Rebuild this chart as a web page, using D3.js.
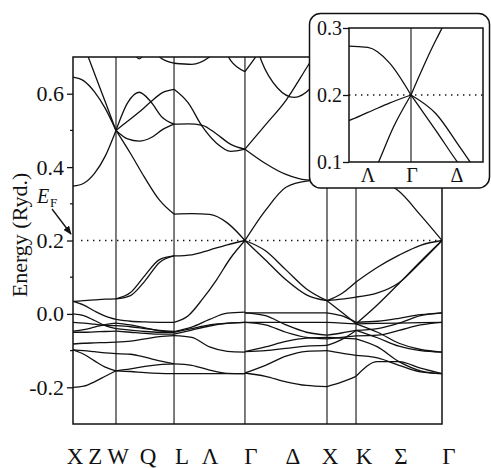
<!DOCTYPE html>
<html>
<head>
<meta charset="utf-8">
<script src="https://cdn.jsdelivr.net/npm/d3@7"></script>
<style>
  body { margin: 0; background: #fff; }
  svg text { font-family: "Liberation Serif", "Times New Roman", serif; fill: #111; }
</style>
</head>
<body>
<svg id="chart" width="491" height="468"></svg>
<script>
// high-symmetry points along the k path
const kNames = ["X", "W", "L", "Γ", "X", "K", "Γ"];
const kPos = [0, 0.523, 1.229, 2.092, 3.090, 3.443, 4.489];

// labels under the axis (points and lines between them)
const pathLabels = ["X", "Z", "W", "Q", "L", "Λ", "Γ", "Δ", "X", "K", "Σ", "Γ"];
const pathLabelK = [0.024, 0.27, 0.548, 0.912, 1.326, 1.667, 2.165, 2.676, 3.126, 3.54, 3.99, 4.574];

const yTicks = [-0.2, 0, 0.2, 0.4, 0.6];
const yMinor = [-0.1, 0.1, 0.3, 0.5];
const fermi = 0.2;

// energies (Ryd.) sampled at equal steps along each segment
const bandsXW = [
  [0.81, 0.733, 0.655, 0.578, 0.50],
  [0.645, 0.635, 0.605, 0.56, 0.50],
  [0.348, 0.356, 0.383, 0.43, 0.50],
  [0.034, 0.036, 0.038, 0.040, 0.041],
  [0.034, 0.024, 0.008, -0.006, -0.015],
  [0.0, -0.005, -0.018, -0.032, -0.04],
  [-0.023, -0.025, -0.028, -0.031, -0.032],
  [-0.047, -0.043, -0.036, -0.029, -0.025],
  [-0.05, -0.05, -0.049, -0.048, -0.047],
  [-0.082, -0.08, -0.079, -0.078, -0.077],
  [-0.098, -0.1, -0.103, -0.106, -0.108],
  [-0.098, -0.11, -0.128, -0.145, -0.155],
  [-0.2, -0.197, -0.185, -0.17, -0.155]
];
const bandsWL = [
  [0.50, 0.437, 0.37, 0.31, 0.272],
  [0.50, 0.575, 0.604, 0.578, 0.535, 0.517],
  [0.50, 0.525, 0.55, 0.578, 0.603, 0.612],
  [0.50, 0.477, 0.471, 0.48, 0.502, 0.517],
  [0.78, 0.74, 0.695, 0.74, 0.78, 0.8],
  [0.80, 0.78, 0.75, 0.70, 0.683],
  [0.041, 0.05, 0.09, 0.14, 0.158],
  [0.041, 0.058, 0.105, 0.148, 0.158],
  [-0.015, -0.02, -0.022, -0.023, -0.023],
  [-0.04, -0.044, -0.048, -0.05, -0.05],
  [-0.032, -0.035, -0.04, -0.045, -0.048],
  [-0.025, -0.03, -0.038, -0.046, -0.05],
  [-0.047, -0.05, -0.053, -0.055, -0.055],
  [-0.077, -0.074, -0.068, -0.062, -0.059],
  [-0.108, -0.11, -0.118, -0.128, -0.136],
  [-0.155, -0.15, -0.143, -0.138, -0.136],
  [-0.155, -0.157, -0.16, -0.162, -0.163]
];
const bandsLG = [
  [0.272, 0.273, 0.271, 0.248, 0.2],
  [0.612, 0.575, 0.51, 0.465, 0.443, 0.449],
  [0.517, 0.518, 0.514, 0.49, 0.462, 0.449],
  [0.683, 0.68, 0.70, 0.75, 0.8],
  [0.95, 0.9, 0.84, 0.77, 0.69, 0.66],
  [0.158, 0.161, 0.174, 0.188, 0.2],
  [-0.023, -0.005, 0.04, 0.093, 0.153, 0.2],
  [-0.048, -0.036, -0.015, 0.002, 0.005],
  [-0.05, -0.04, -0.03, -0.025, -0.023],
  [-0.055, -0.044, -0.033, -0.026, -0.023],
  [-0.059, -0.064, -0.09, -0.102, -0.104],
  [-0.136, -0.14, -0.153, -0.162, -0.163],
  [-0.163, -0.163, -0.163, -0.163, -0.163]
];
const bandsGX = [
  [0.66, 0.74, 0.84, 0.92, 0.95],
  [0.85, 0.69, 0.615, 0.59, 0.615, 0.68],
  [0.449, 0.515, 0.582, 0.67, 0.76],
  [0.449, 0.41, 0.38, 0.365, 0.363],
  [0.2, 0.282, 0.345, 0.362, 0.365],
  [0.2, 0.147, 0.093, 0.052, 0.036],
  [0.2, 0.172, 0.12, 0.068, 0.036],
  [0.003, 0.003, 0.003, 0.003, 0.003],
  [0.003, -0.005, -0.03, -0.05, -0.058],
  [-0.023, -0.023, -0.023, -0.023, -0.023],
  [-0.023, -0.03, -0.05, -0.064, -0.068],
  [-0.103, -0.1, -0.094, -0.088, -0.086],
  [-0.103, -0.09, -0.075, -0.066, -0.064],
  [-0.161, -0.14, -0.115, -0.102, -0.1],
  [-0.161, -0.17, -0.185, -0.195, -0.198]
];
const bandsXK = [
  [0.363, 0.364, 0.365],
  [0.036, 0.055, 0.087],
  [0.036, 0.04, 0.046],
  [0.036, 0.005, -0.027],
  [0.003, -0.005, -0.023],
  [-0.023, -0.025, -0.027],
  [-0.058, -0.052, -0.045],
  [-0.068, -0.064, -0.06],
  [-0.064, -0.066, -0.068],
  [-0.086, -0.07, -0.045],
  [-0.1, -0.107, -0.113],
  [-0.198, -0.186, -0.17]
];
const bandsKG = [
  [0.365, 0.365, 0.334, 0.269, 0.2],
  [0.365, 0.42, 0.5, 0.58, 0.65],
  [0.087, 0.127, 0.16, 0.187, 0.2],
  [0.046, 0.057, 0.085, 0.14, 0.2],
  [-0.027, 0.025, 0.083, 0.143, 0.2],
  [-0.023, -0.02, -0.012, -0.002, 0.003],
  [-0.045, -0.04, -0.025, -0.005, 0.003],
  [-0.027, -0.026, -0.025, -0.024, -0.023],
  [-0.06, -0.058, -0.045, -0.03, -0.023],
  [-0.027, -0.05, -0.08, -0.097, -0.104],
  [-0.045, -0.065, -0.088, -0.1, -0.104],
  [-0.068, -0.09, -0.13, -0.155, -0.163],
  [-0.113, -0.12, -0.14, -0.158, -0.163],
  [-0.17, -0.13, -0.13, -0.148, -0.163]
];

// inset: zoom around Γ
const insetTicks = [0.1, 0.2, 0.3];
const insetLabels = ["Λ", "Γ", "Δ"];
const insetLabelK = [1.662, 2.102, 2.552];

function main() {
  const svg = d3.select("#chart");
  const ink = "#111";

  const x = d3.scaleLinear().domain([kPos[0], kPos[kPos.length - 1]]).range([73, 442]);
  const y = d3.scaleLinear().domain([-0.3, 0.7]).range([424, 57]);

  const segments = [
    [0, 1, bandsXW], [1, 2, bandsWL], [2, 3, bandsLG],
    [3, 4, bandsGX], [4, 5, bandsXK], [5, 6, bandsKG]
  ];

  // turn segment samples into [k, E] point lists
  let curves = [];
  segments.forEach(([a, b, bands]) => {
    const k0 = kPos[a], k1 = kPos[b];
    bands.forEach(vals => {
      const n = vals.length;
      curves.push(vals.map((e, i) => [k0 + (k1 - k0) * i / (n - 1), e]));
    });
  });

  const defs = svg.append("defs");
  defs.append("clipPath").attr("id", "mainclip")
    .append("rect").attr("x", 73).attr("y", 57).attr("width", 369).attr("height", 367);
  defs.append("clipPath").attr("id", "insetclip")
    .append("rect").attr("x", 349).attr("y", 28).attr("width", 134).attr("height", 134);
  defs.append("marker").attr("id", "arrow")
    .attr("viewBox", "0 0 10 8").attr("refX", 9).attr("refY", 4)
    .attr("markerWidth", 9).attr("markerHeight", 7).attr("markerUnits", "userSpaceOnUse")
    .attr("orient", "auto")
    .append("path").attr("d", "M0,0 L10,4 L0,8 z").attr("fill", ink);

  const line = d3.line().x(d => x(d[0])).y(d => y(d[1])).curve(d3.curveMonotoneX);

  // fermi level
  svg.append("line")
    .attr("x1", x(0) + 8).attr("x2", x.range()[1])
    .attr("y1", y(fermi)).attr("y2", y(fermi))
    .attr("stroke", ink).attr("stroke-width", 1.3)
    .attr("stroke-dasharray", "1.4,4.6");

  // vertical lines at symmetry points
  svg.append("g").selectAll("line")
    .data(kPos.slice(1, -1)).enter()
    .append("line")
      .attr("x1", d => x(d)).attr("x2", d => x(d))
      .attr("y1", y.range()[1]).attr("y2", y.range()[0])
      .attr("stroke", ink).attr("stroke-width", 1.1);

  svg.append("g").attr("clip-path", "url(#mainclip)")
    .selectAll("path")
    .data(curves).enter()
    .append("path")
      .attr("d", line)
      .attr("fill", "none").attr("stroke", ink).attr("stroke-width", 1.3);

  // frame
  svg.append("rect")
    .attr("x", 73).attr("y", 57).attr("width", 369).attr("height", 367)
    .attr("fill", "none").attr("stroke", ink).attr("stroke-width", 1.5);

  // y axis
  const yAxis = svg.append("g").attr("transform", "translate(73,0)")
    .call(d3.axisLeft(y).tickValues(yTicks).tickSize(6).tickSizeOuter(0)
      .tickFormat(d => d3.format(".1f")(d).replace("−", "-")));
  yAxis.select(".domain").remove();
  yAxis.selectAll("line").attr("stroke", ink).attr("stroke-width", 1.3);
  yAxis.selectAll("text").attr("font-size", 22).attr("x", -9)
    .attr("font-family", "Liberation Serif").attr("fill", ink);

  svg.append("g").selectAll("line")
    .data(yMinor).enter()
    .append("line")
      .attr("x1", 70).attr("x2", 73)
      .attr("y1", d => y(d)).attr("y2", d => y(d))
      .attr("stroke", ink).attr("stroke-width", 1.2);

  svg.append("text")
    .attr("transform", `translate(27,${y(0.215)}) rotate(-90)`)
    .attr("text-anchor", "middle").attr("font-size", 22)
    .text("Energy (Ryd.)");

  // k path labels
  svg.append("g").selectAll("text")
    .data(pathLabels).enter()
    .append("text")
      .attr("x", (d, i) => x(pathLabelK[i]))
      .attr("y", 464)
      .attr("text-anchor", "middle").attr("font-size", 23)
      .text(d => d);

  // E_F marker
  svg.append("text").attr("x", 37).attr("y", 203)
    .attr("font-size", 20).attr("font-style", "italic").text("E");
  svg.append("text").attr("x", 50).attr("y", 207)
    .attr("font-size", 13).text("F");
  svg.append("line")
    .attr("x1", 52).attr("y1", 209).attr("x2", 71).attr("y2", 234)
    .attr("stroke", ink).attr("stroke-width", 1.3)
    .attr("marker-end", "url(#arrow)");

  // ---- inset ----
  const xi = d3.scaleLinear().domain([kPos[3] - 0.62, kPos[3] + 0.72]).range([349, 483]);
  const yi = d3.scaleLinear().domain([0.1, 0.3]).range([162, 28]);
  const linei = d3.line().x(d => xi(d[0])).y(d => yi(d[1])).curve(d3.curveMonotoneX);

  const inset = svg.append("g");
  inset.append("rect")
    .attr("x", 309.5).attr("y", 13.5).attr("width", 180).attr("height", 174.5)
    .attr("rx", 11).attr("fill", "#fff").attr("stroke", ink).attr("stroke-width", 1.5);

  inset.append("line")
    .attr("x1", xi.range()[0]).attr("x2", xi.range()[1])
    .attr("y1", yi(fermi)).attr("y2", yi(fermi))
    .attr("stroke", ink).attr("stroke-width", 1.3)
    .attr("stroke-dasharray", "1.4,4.6");

  inset.append("line")
    .attr("x1", xi(kPos[3])).attr("x2", xi(kPos[3]))
    .attr("y1", yi.range()[1]).attr("y2", yi.range()[0])
    .attr("stroke", ink).attr("stroke-width", 1.1);

  // only L-Γ and Γ-X segments show in the window
  const insetCurves = curves.filter(c => c[0][0] >= kPos[2] - 1e-6 && c[c.length - 1][0] <= kPos[4] + 1e-6);
  inset.append("g").attr("clip-path", "url(#insetclip)")
    .selectAll("path")
    .data(insetCurves).enter()
    .append("path")
      .attr("d", linei)
      .attr("fill", "none").attr("stroke", ink).attr("stroke-width", 1.3);

  inset.append("rect")
    .attr("x", 349).attr("y", 28).attr("width", 134).attr("height", 134)
    .attr("fill", "none").attr("stroke", ink).attr("stroke-width", 1.5);

  const yiAxis = inset.append("g").attr("transform", "translate(349,0)")
    .call(d3.axisLeft(yi).tickValues(insetTicks).tickSize(6).tickSizeOuter(0)
      .tickFormat(d3.format(".1f")));
  yiAxis.select(".domain").remove();
  yiAxis.selectAll("line").attr("stroke", ink).attr("stroke-width", 1.3);
  yiAxis.selectAll("text").attr("font-size", 20).attr("x", -7)
    .attr("font-family", "Liberation Serif").attr("fill", ink);

  inset.append("g").selectAll("text")
    .data(insetLabels).enter()
    .append("text")
      .attr("x", (d, i) => xi(insetLabelK[i]))
      .attr("y", 182)
      .attr("text-anchor", "middle").attr("font-size", 20)
      .text(d => d);
}

window.addEventListener("load", main);
</script>
</body>
</html>
